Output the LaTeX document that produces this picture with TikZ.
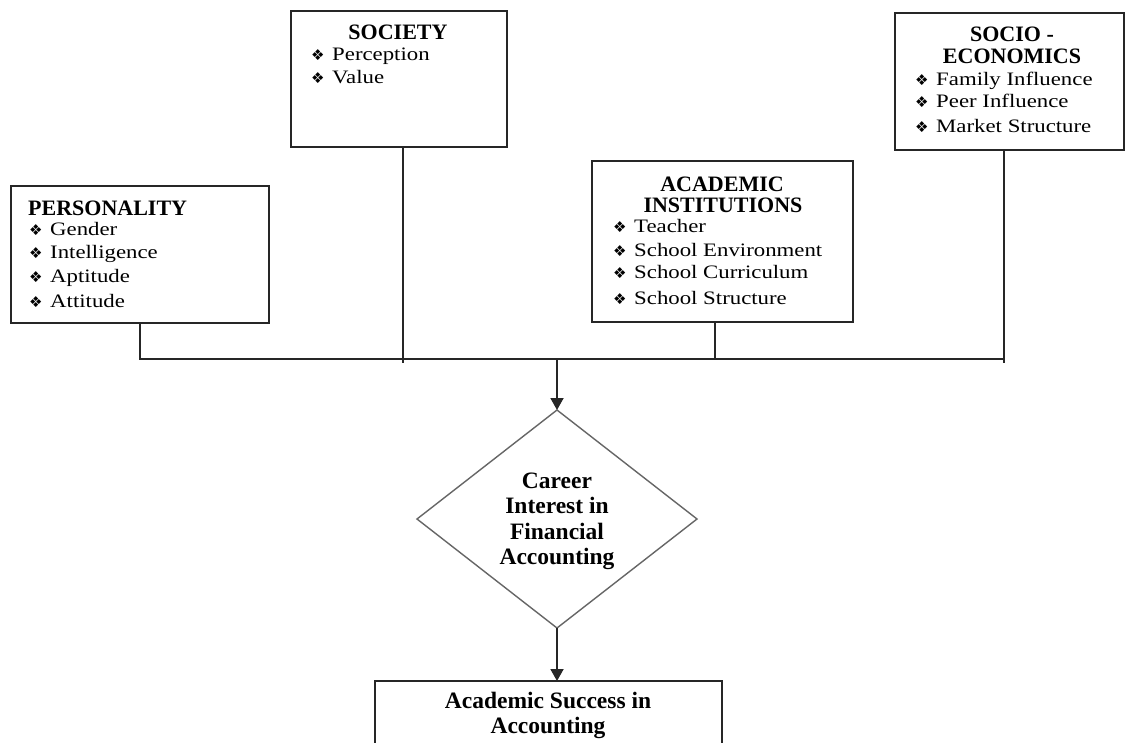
\documentclass[tikz,border=0pt]{standalone}
\usepackage{fontspec}
\setmainfont{Liberation Serif}
\newfontfamily\itemfont[FakeStretch=1.2]{Liberation Serif}
\newfontfamily\bulfont{DejaVu Sans}
\usetikzlibrary{shapes.geometric,arrows.meta}
\newcommand{\bul}{\makebox[21pt][l]{\bulfont\fontsize{15}{15}\selectfont\raisebox{0pt}{❖}}}
\tikzset{
  frame/.style={draw=black!85, line width=1.8pt, rectangle, inner sep=0pt, outer sep=0pt},
  ttl/.style={font=\bfseries\fontsize{22}{24}\selectfont, inner sep=0pt, anchor=base},
  ttlw/.style={ttl, anchor=base west},
  itm/.style={font=\itemfont\fontsize{19}{20}\selectfont, inner sep=0pt, anchor=base west},
  big/.style={font=\bfseries\fontsize{23.5}{25}\selectfont, inner sep=0pt, anchor=base},
  conn/.style={draw=black!85, line width=1.8pt},
  arr/.style={conn, -{Triangle[width=13pt,length=12pt]}},
  dia/.style={draw=black!60, line width=1.4pt, diamond, inner sep=0pt, outer sep=0pt}
}
\begin{document}
\begin{tikzpicture}[x=1pt,y=-1pt]
\clip (0,0) rectangle (1126,742);
\useasboundingbox (0,0) rectangle (1126,742);
\fill[white] (0,0) rectangle (1126,742);

% boxes
\node[frame, minimum width=258pt, minimum height=137pt] (P) at (140,254.5) {};
\node[frame, minimum width=216pt, minimum height=136pt] (S) at (399,79) {};
\node[frame, minimum width=261pt, minimum height=161pt] (A) at (722.5,241.5) {};
\node[frame, minimum width=229pt, minimum height=137pt] (E) at (1009.5,81.5) {};
\node[dia, minimum width=280pt, minimum height=218pt] (D) at (557,519) {};
\node[frame, minimum width=347pt, minimum height=99pt] (B) at (548.5,730.5) {};

% personality
\node[ttlw] (Pt) at (28,215) {PERSONALITY};
\node[itm] (P1) at (29,235) {\bul Gender};
\node[itm] (P2) at (29,258) {\bul Intelligence};
\node[itm] (P3) at (29,282) {\bul Aptitude};
\node[itm] (P4) at (29,307) {\bul Attitude};

% society
\node[ttl] (St) at (398,39) {SOCIETY};
\node[itm] (S1) at (311,60) {\bul Perception};
\node[itm] (S2) at (311,83) {\bul Value};

% academic institutions
\node[ttl] (At1) at (722,191) {ACADEMIC};
\node[ttl] (At2) at (723,212) {INSTITUTIONS};
\node[itm] (A1) at (613,232) {\bul Teacher};
\node[itm] (A2) at (613,256) {\bul School Environment};
\node[itm] (A3) at (613,278) {\bul School Curriculum};
\node[itm] (A4) at (613,304) {\bul School Structure};

% socio-economics
\node[ttl] (Et1) at (1012,41) {SOCIO -};
\node[ttl] (Et2) at (1012,63) {ECONOMICS};
\node[itm] (E1) at (915,85) {\bul Family Influence};
\node[itm] (E2) at (915,107) {\bul Peer Influence};
\node[itm] (E3) at (915,132) {\bul Market Structure};

% diamond text
\node[big] (D1) at (557,488) {Career};
\node[big] (D2) at (557,513.5) {Interest in};
\node[big] (D3) at (557,539) {Financial};
\node[big] (D4) at (557,564.5) {Accounting};

% bottom box text
\node[big] (B1) at (548,708) {Academic Success in};
\node[big] (B2) at (548,733) {Accounting};

% connectors
\coordinate (hl) at (0,359);
\coordinate (lo) at (0,363);
\draw[conn] (P.south) |- ([xshift=-5.5pt]E.south |- hl);
\draw[conn] ([xshift=4pt]S.south) -- ([xshift=4pt]S.south |- lo);
\draw[conn] ([xshift=-7.5pt]A.south) -- ([xshift=-7.5pt]A.south |- hl);
\draw[conn] ([xshift=-5.5pt]E.south) -- ([xshift=-5.5pt]E.south |- lo);
\draw[arr] (D.north |- hl) -- (D.north);
\draw[arr] (D.south) -- (D.south |- B.north);
\end{tikzpicture}
\end{document}
